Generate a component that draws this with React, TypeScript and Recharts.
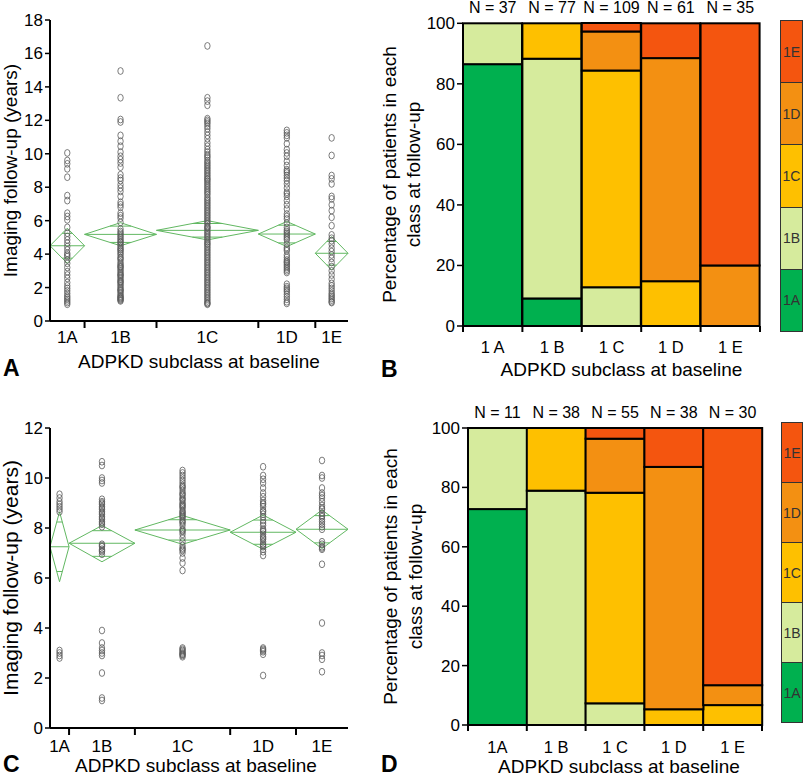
import React from 'react';
import { ScatterChart, Scatter, XAxis, YAxis, ReferenceLine, BarChart, Bar, Label } from 'recharts';

const FONT = '"Liberation Sans", Arial, Helvetica, sans-serif';

const classLabels = ['1A', '1B', '1C', '1D', '1E'];
const catLabelsB = ['1 A', '1 B', '1 C', '1 D', '1 E'];
const catLabelsD = ['1A', '1 B', '1 C', '1 D', '1 E'];
const classColors = ['#00b04f', '#d6eb9d', '#fec000', '#f39012', '#f4550f'];

// ---------- Panel A (imaging follow-up, all patients) ----------
const nA = [37, 77, 109, 61, 35];
const a1A = [10.05, 9.6, 9.4, 9.1, 8.6, 7.5, 7.2, 6.45, 6.25, 6.05, 5.6, 5.25, 5.05, 4.85, 4.65, 4.45, 4.25, 4.05, 3.85, 3.65, 3.45, 3.2, 2.95, 2.75, 2.55, 2.3, 2.1, 1.95, 1.8, 1.65, 1.5, 1.4, 1.3, 1.2, 1.1, 1.0, 3.95];
const a1B = [14.95, 13.35, 12.05, 11.9, 11.1, 10.75, 10.45, 10.1, 9.85, 9.65, 9.45, 9.2, 8.75, 8.4, 8.15, 7.95, 7.45, 7.1, 6.8, 6.45, 6.15, 5.9, 5.35, 5.25, 5.15, 5.05, 4.95, 4.85, 4.75, 4.6, 4.5, 4.4, 4.3, 4.15, 4.05, 3.95, 3.8, 3.65, 3.5, 3.4, 3.3, 3.2, 3.1, 3.0, 2.9, 2.8, 2.7, 2.6, 2.5, 2.4, 2.3, 2.2, 2.1, 2.0, 1.9, 1.8, 1.7, 1.6, 1.5, 1.4, 1.3, 1.25, 1.2, 8.55, 7.75, 6.95, 6.3, 5.5, 4.7, 4.25, 3.75, 3.25, 2.75, 2.35, 1.85, 1.45, 1.35];
const a1C = [16.45, 13.35, 13.15, 12.9, 12.1, 12.0, 11.9, 11.8, 11.65, 11.5, 11.3, 11.1, 10.9, 10.65, 10.45, 10.25, 10.1, 9.95, 9.85, 9.75, 9.6, 9.5, 9.4, 9.3, 9.2, 9.1, 9.0, 8.9, 8.8, 8.7, 8.6, 8.5, 8.45, 8.35, 8.25, 8.15, 8.05, 7.95, 7.85, 7.75, 7.65, 7.55, 7.4, 7.3, 7.2, 7.1, 7.0, 6.9, 6.8, 6.7, 6.6, 6.5, 6.4, 6.3, 6.2, 6.1, 6.0, 5.9, 5.8, 5.65, 5.55, 5.45, 5.35, 5.25, 5.15, 5.05, 4.95, 4.85, 4.75, 4.6, 4.5, 4.4, 4.3, 4.2, 4.1, 4.0, 3.9, 3.8, 3.7, 3.6, 3.5, 3.4, 3.3, 3.2, 3.1, 3.0, 2.9, 2.8, 2.7, 2.6, 2.5, 2.4, 2.3, 2.2, 2.1, 2.0, 1.9, 1.8, 1.7, 1.6, 1.5, 1.4, 1.3, 1.2, 1.1, 1.05, 1.0, 5.6, 4.65];
const a1D = [11.4, 11.25, 11.1, 10.95, 10.6, 10.25, 10.05, 9.85, 9.55, 9.3, 9.05, 8.85, 8.7, 8.55, 8.4, 8.2, 7.95, 7.7, 7.45, 7.2, 6.95, 6.7, 6.4, 6.1, 5.85, 5.6, 5.35, 5.25, 5.15, 5.05, 4.95, 4.85, 4.6, 4.4, 4.2, 3.95, 3.8, 3.65, 3.5, 3.4, 3.3, 3.2, 3.1, 3.0, 2.9, 2.2, 2.05, 1.95, 1.85, 1.75, 1.6, 1.45, 1.3, 1.15, 1.05, 8.95, 7.6, 6.25, 5.45, 4.3, 3.55];
const a1E = [10.95, 9.9, 8.7, 8.5, 8.2, 7.45, 7.3, 6.95, 6.6, 6.2, 5.7, 5.15, 4.95, 4.8, 4.6, 4.35, 4.15, 3.95, 3.75, 3.5, 3.25, 3.0, 2.75, 2.5, 2.25, 2.1, 1.95, 1.8, 1.65, 1.55, 1.45, 1.35, 1.25, 1.15, 1.1];
const meanA = [4.5, 5.18, 5.42, 5.2, 4.05];
const loA = [3.45, 4.5, 4.85, 4.45, 3.05];
const hiA = [5.55, 5.88, 6.0, 5.95, 5.05];
const yTicksA = [0, 2, 4, 6, 8, 10, 12, 14, 16, 18];

// ---------- Panel C (imaging follow-up, subset) ----------
const nC = [11, 38, 55, 38, 30];
const c1A = [9.35, 9.2, 9.05, 8.95, 8.85, 8.75, 8.65, 3.1, 3.0, 2.9, 2.8];
const c1B = [10.65, 10.5, 10.0, 9.9, 9.8, 9.15, 9.05, 8.95, 8.85, 8.75, 8.65, 8.55, 8.45, 8.35, 8.25, 8.15, 8.05, 7.35, 7.25, 7.15, 7.05, 6.95, 3.9, 3.4, 3.2, 3.0, 2.9, 2.2, 1.2, 1.1, 9.0, 8.8, 8.6, 8.4, 8.2, 7.3, 7.1, 3.1];
const c1C = [10.3, 10.2, 10.1, 10.0, 9.9, 9.8, 9.7, 9.6, 9.5, 9.4, 9.3, 9.2, 9.1, 9.0, 8.95, 8.9, 8.8, 8.7, 8.65, 8.6, 8.5, 8.45, 8.4, 8.3, 8.2, 8.1, 7.95, 7.85, 7.75, 7.6, 7.45, 7.3, 7.2, 7.1, 7.0, 6.8, 6.6, 6.3, 3.2, 3.15, 3.1, 3.05, 3.0, 2.95, 2.9, 2.85, 9.65, 9.35, 9.15, 8.85, 8.55, 8.25, 7.9, 7.15, 2.95];
const c1D = [10.45, 10.1, 9.95, 9.8, 9.6, 9.4, 9.25, 9.1, 8.95, 8.85, 8.7, 8.55, 8.45, 8.3, 8.1, 7.95, 7.85, 7.75, 7.65, 7.55, 7.45, 7.35, 7.25, 7.15, 7.05, 6.9, 3.2, 3.1, 3.05, 2.95, 2.1, 9.0, 8.65, 8.2, 7.9, 7.6, 7.3, 3.15];
const c1E = [10.7, 10.1, 10.0, 9.6, 9.4, 9.2, 9.05, 8.9, 8.75, 8.6, 8.45, 8.35, 8.25, 8.15, 8.05, 7.45, 7.35, 7.25, 7.15, 6.55, 4.2, 3.0, 2.9, 2.75, 2.25, 9.3, 8.8, 8.5, 7.95, 7.2];
const meanC = [7.25, 7.39, 7.92, 7.83, 7.95];
const loC = [5.85, 6.65, 7.35, 7.15, 7.18];
const hiC = [8.65, 8.1, 8.5, 8.52, 8.72];
const yTicksC = [0, 2, 4, 6, 8, 10, 12];

// ---------- Panel B (% in each follow-up class, by baseline class) ----------
const nB = [37, 77, 109, 61, 35];
const bTo1A = [86.5, 9.1, 0, 0, 0];
const bTo1B = [13.5, 79.2, 12.8, 0, 0];
const bTo1C = [0, 11.7, 71.6, 14.8, 0];
const bTo1D = [0, 0, 12.9, 73.7, 20.0];
const bTo1E = [0, 0, 2.8, 11.5, 80.0];

// ---------- Panel D ----------
const nD = [11, 38, 55, 38, 30];
const dTo1A = [72.7, 0, 0, 0, 0];
const dTo1B = [27.3, 78.9, 7.3, 0, 0];
const dTo1C = [0, 21.1, 70.9, 5.3, 6.7];
const dTo1D = [0, 0, 18.2, 81.6, 6.7];
const dTo1E = [0, 0, 3.6, 13.1, 86.6];
const pctTicks = [0, 20, 40, 60, 80, 100];

const xTitleText = 'ADPKD subclass at baseline';

const Ring = (p: any) => (
  <ellipse cx={p.cx} cy={p.cy} rx={2.7} ry={3.4} fill="none" stroke="#5a5a5a" strokeWidth={0.8} />
);

function ScatterPanel(props: any) {
  const { ns, groups, means, lo, hi, yMax, yTicks, left, top, width, height, margin, yTitleSize, yTitleOffset, labelDy, titleDy, titleDx } = props;
  const total = ns.reduce((s: number, v: number) => s + v, 0);
  const starts: number[] = [];
  let acc = 0;
  ns.forEach((n: number) => { starts.push(acc); acc += n; });
  const ends = starts.map((s, i) => s + ns[i]);
  const centers = starts.map((s, i) => s + ns[i] / 2);
  const boundaries = ends.slice(0, -1);
  const ticks = [...boundaries, ...centers];
  const k = 1 / Math.SQRT2;
  const segs: any[] = [];
  groups.forEach((_: any, i: number) => {
    const L = starts[i], R = ends[i], C = centers[i], m = means[i];
    segs.push([{ x: L, y: m }, { x: C, y: hi[i] }]);
    segs.push([{ x: C, y: hi[i] }, { x: R, y: m }]);
    segs.push([{ x: R, y: m }, { x: C, y: lo[i] }]);
    segs.push([{ x: C, y: lo[i] }, { x: L, y: m }]);
    segs.push([{ x: L, y: m }, { x: R, y: m }]);
    const hw = ((R - L) / 2) * (1 - k);
    const up = m + (hi[i] - m) * k;
    const dn = m - (m - lo[i]) * k;
    segs.push([{ x: C - hw, y: up }, { x: C + hw, y: up }]);
    segs.push([{ x: C - hw, y: dn }, { x: C + hw, y: dn }]);
  });

  const XTick = (tp: any) => {
    const { x, y, payload } = tp;
    const idx = centers.findIndex((c) => Math.abs(c - payload.value) < 1e-6);
    if (idx >= 0) {
      return (
        <text x={x} y={y + labelDy} textAnchor="middle" fontSize={17} fontFamily={FONT} fill="#000">
          {classLabels[idx]}
        </text>
      );
    }
    return <line x1={x} x2={x} y1={y} y2={y + 7} stroke="#000" strokeWidth={2} />;
  };

  const XTitle = (lp: any) => {
    const vb = lp.viewBox;
    return (
      <text x={vb.x + vb.width / 2 + titleDx} y={vb.y + titleDy} textAnchor="middle" fontSize={19} fontFamily={FONT} fill="#000">
        {xTitleText}
      </text>
    );
  };
  const YTitle = (lp: any) => {
    const vb = lp.viewBox;
    const tx = vb.x + vb.width - yTitleOffset;
    const ty = vb.y + vb.height / 2;
    return (
      <text x={tx} y={ty} transform={`rotate(-90 ${tx} ${ty})`} textAnchor="middle" fontSize={yTitleSize} fontFamily={FONT} fill="#000">
        Imaging follow-up (years)
      </text>
    );
  };

  return (
    <div style={{ position: 'absolute', left, top }}>
      <ScatterChart width={width} height={height} margin={margin}>
        <XAxis
          type="number"
          dataKey="x"
          domain={[0, total]}
          ticks={ticks}
          interval={0}
          height={1}
          tickSize={0}
          tickMargin={0}
          tickLine={false}
          tick={XTick}
          axisLine={{ stroke: '#000', strokeWidth: 2 }}
        >
          <Label content={XTitle} />
        </XAxis>
        <YAxis
          type="number"
          dataKey="y"
          domain={[0, yMax]}
          ticks={yTicks}
          interval={0}
          width={1}
          tickSize={5}
          tickMargin={2}
          tick={{ fontSize: 17, fill: '#000', fontFamily: FONT }}
          tickLine={{ stroke: '#000', strokeWidth: 1.5 }}
          axisLine={{ stroke: '#000', strokeWidth: 2 }}
        >
          <Label content={YTitle} />
        </YAxis>
        {groups.map((g: number[], i: number) => (
          <Scatter
            key={classLabels[i]}
            data={g.map((v) => ({ x: centers[i], y: v }))}
            shape={Ring}
            isAnimationActive={false}
          />
        ))}
        {segs.map((s, i) => (
          <ReferenceLine key={'d' + i} segment={s} stroke="#62b862" strokeWidth={1} ifOverflow="visible" />
        ))}
      </ScatterChart>
    </div>
  );
}

const SegShape = (p: any) => {
  if (!p.height || Math.abs(p.height) < 0.01) return <g />;
  return <rect x={p.x} y={p.y} width={p.width} height={p.height} fill={p.fill} stroke="#000" strokeWidth={2} />;
};

function BarPanel(props: any) {
  const { ns, series, catLabels, left, top, width, height, margin, legend, yT1, yT2, titleDx, labelDy, titleDy } = props;
  const plotW = width - margin.left - margin.right - 1;
  const bw = plotW / ns.length;
  const data = catLabels.map((c: string, i: number) => {
    const row: any = { cat: c };
    classLabels.forEach((cl, k) => { row[cl] = series[k][i]; });
    return row;
  });

  const CatTick = (tp: any) => {
    const { x, y, payload, index } = tp;
    return (
      <g>
        <line x1={x - bw / 2} x2={x - bw / 2} y1={y} y2={y + 6} stroke="#000" strokeWidth={2} />
        {index === ns.length - 1 ? <line x1={x + bw / 2} x2={x + bw / 2} y1={y} y2={y + 6} stroke="#000" strokeWidth={2} /> : null}
        <text x={x} y={y + labelDy} textAnchor="middle" fontSize={16.5} fontFamily={FONT} fill="#000">
          {payload.value}
        </text>
      </g>
    );
  };
  const NTick = (tp: any) => {
    const { x, y, index } = tp;
    return (
      <text x={x} y={y - 10} textAnchor="middle" fontSize={16} fontFamily={FONT} fill="#000">
        {`N = ${ns[index]}`}
      </text>
    );
  };
  const XTitle = (lp: any) => {
    const vb = lp.viewBox;
    return (
      <text x={vb.x + vb.width / 2 + titleDx} y={vb.y + titleDy} textAnchor="middle" fontSize={19} fontFamily={FONT} fill="#000">
        {xTitleText}
      </text>
    );
  };
  const YTitle = (lp: any) => {
    const vb = lp.viewBox;
    const ty = vb.y + vb.height / 2;
    const x1 = vb.x + vb.width - yT1;
    const x2 = vb.x + vb.width - yT2;
    return (
      <g>
        <text x={x1} y={ty} transform={`rotate(-90 ${x1} ${ty})`} textAnchor="middle" fontSize={19} fontFamily={FONT} fill="#000">
          Percentage of patients in each
        </text>
        <text x={x2} y={ty} transform={`rotate(-90 ${x2} ${ty})`} textAnchor="middle" fontSize={19} fontFamily={FONT} fill="#000">
          class at follow-up
        </text>
      </g>
    );
  };

  return (
    <>
      <div style={{ position: 'absolute', left, top }}>
        <BarChart width={width} height={height} data={data} margin={margin} barCategoryGap={0} barGap={0}>
          <XAxis
            dataKey="cat"
            interval={0}
            height={1}
            tickSize={0}
            tickMargin={0}
            tickLine={false}
            tick={CatTick}
            axisLine={{ stroke: '#000', strokeWidth: 2 }}
          >
            <Label content={XTitle} />
          </XAxis>
          <XAxis
            xAxisId="n"
            orientation="top"
            dataKey="cat"
            interval={0}
            height={1}
            tickSize={0}
            tickMargin={0}
            tickLine={false}
            axisLine={false}
            tick={NTick}
          />
          <YAxis
            type="number"
            domain={[0, 100]}
            ticks={pctTicks}
            interval={0}
            width={1}
            tickSize={6}
            tickMargin={2}
            tick={{ fontSize: 17, fill: '#000', fontFamily: FONT }}
            tickLine={{ stroke: '#000', strokeWidth: 1.5 }}
            axisLine={{ stroke: '#000', strokeWidth: 2 }}
          >
            <Label content={YTitle} />
          </YAxis>
          {classLabels.map((cl, k) => (
            <Bar key={cl} dataKey={cl} stackId="s" fill={classColors[k]} shape={SegShape} isAnimationActive={false} />
          ))}
        </BarChart>
      </div>
      <div
        style={{
          position: 'absolute',
          left: legend.x,
          top: legend.y,
          width: legend.w,
          height: legend.h,
          display: 'flex',
          flexDirection: 'column',
          border: '1px solid #333',
          boxSizing: 'border-box',
          fontFamily: FONT,
        }}
      >
        {classLabels.map((cl, k) => ({ cl, color: classColors[k] })).reverse().map((it, i) => (
          <div
            key={it.cl}
            style={{
              flex: 1,
              background: it.color,
              borderTop: i > 0 ? '1px solid #333' : 'none',
              display: 'flex',
              alignItems: 'center',
              justifyContent: 'center',
              fontSize: 14,
              color: '#333',
            }}
          >
            {it.cl}
          </div>
        ))}
      </div>
    </>
  );
}

export default function App() {
  return (
    <div style={{ position: 'absolute', left: 0, top: 0, width: 807, height: 777, background: '#fff', fontFamily: FONT, overflow: 'hidden' }}>
      <ScatterPanel
        ns={nA}
        groups={[a1A, a1B, a1C, a1D, a1E]}
        means={meanA}
        lo={loA}
        hi={hiA}
        yMax={18}
        yTicks={yTicksA}
        left={0}
        top={0}
        width={400}
        height={390}
        margin={{ top: 20, right: 52, bottom: 68, left: 49 }}
        yTitleSize={19}
        yTitleOffset={33}
        labelDy={22}
        titleDy={47}
        titleDx={0}
      />
      <ScatterPanel
        ns={nC}
        groups={[c1A, c1B, c1C, c1D, c1E]}
        means={meanC}
        lo={loC}
        hi={hiC}
        yMax={12}
        yTicks={yTicksC}
        left={0}
        top={390}
        width={400}
        height={387}
        margin={{ top: 38, right: 52, bottom: 48, left: 49 }}
        yTitleSize={21}
        yTitleOffset={32}
        labelDy={24}
        titleDy={44}
        titleDx={-3}
      />
      <BarPanel
        ns={nB}
        series={[bTo1A, bTo1B, bTo1C, bTo1D, bTo1E]}
        catLabels={catLabelsB}
        left={380}
        top={0}
        width={427}
        height={390}
        margin={{ top: 22, right: 47, bottom: 63, left: 82 }}
        legend={{ x: 780, y: 20, w: 23, h: 312 }}
        yT1={67}
        yT2={43}
        titleDx={10}
        labelDy={27}
        titleDy={50}
      />
      <BarPanel
        ns={nD}
        series={[dTo1A, dTo1B, dTo1C, dTo1D, dTo1E]}
        catLabels={catLabelsD}
        left={380}
        top={390}
        width={427}
        height={387}
        margin={{ top: 37, right: 45, bottom: 51, left: 87 }}
        legend={{ x: 781, y: 422, w: 22, h: 301 }}
        yT1={71}
        yT2={46}
        titleDx={4}
        labelDy={28}
        titleDy={48}
      />
      <svg width={807} height={777} style={{ position: 'absolute', left: 0, top: 0, pointerEvents: 'none' }}>
        <g fontFamily={FONT} fontWeight="bold" fontSize={23} fill="#000">
          <text x={3} y={376}>A</text>
          <text x={381} y={377}>B</text>
          <text x={3} y={772}>C</text>
          <text x={381} y={772}>D</text>
        </g>
      </svg>
    </div>
  );
}
